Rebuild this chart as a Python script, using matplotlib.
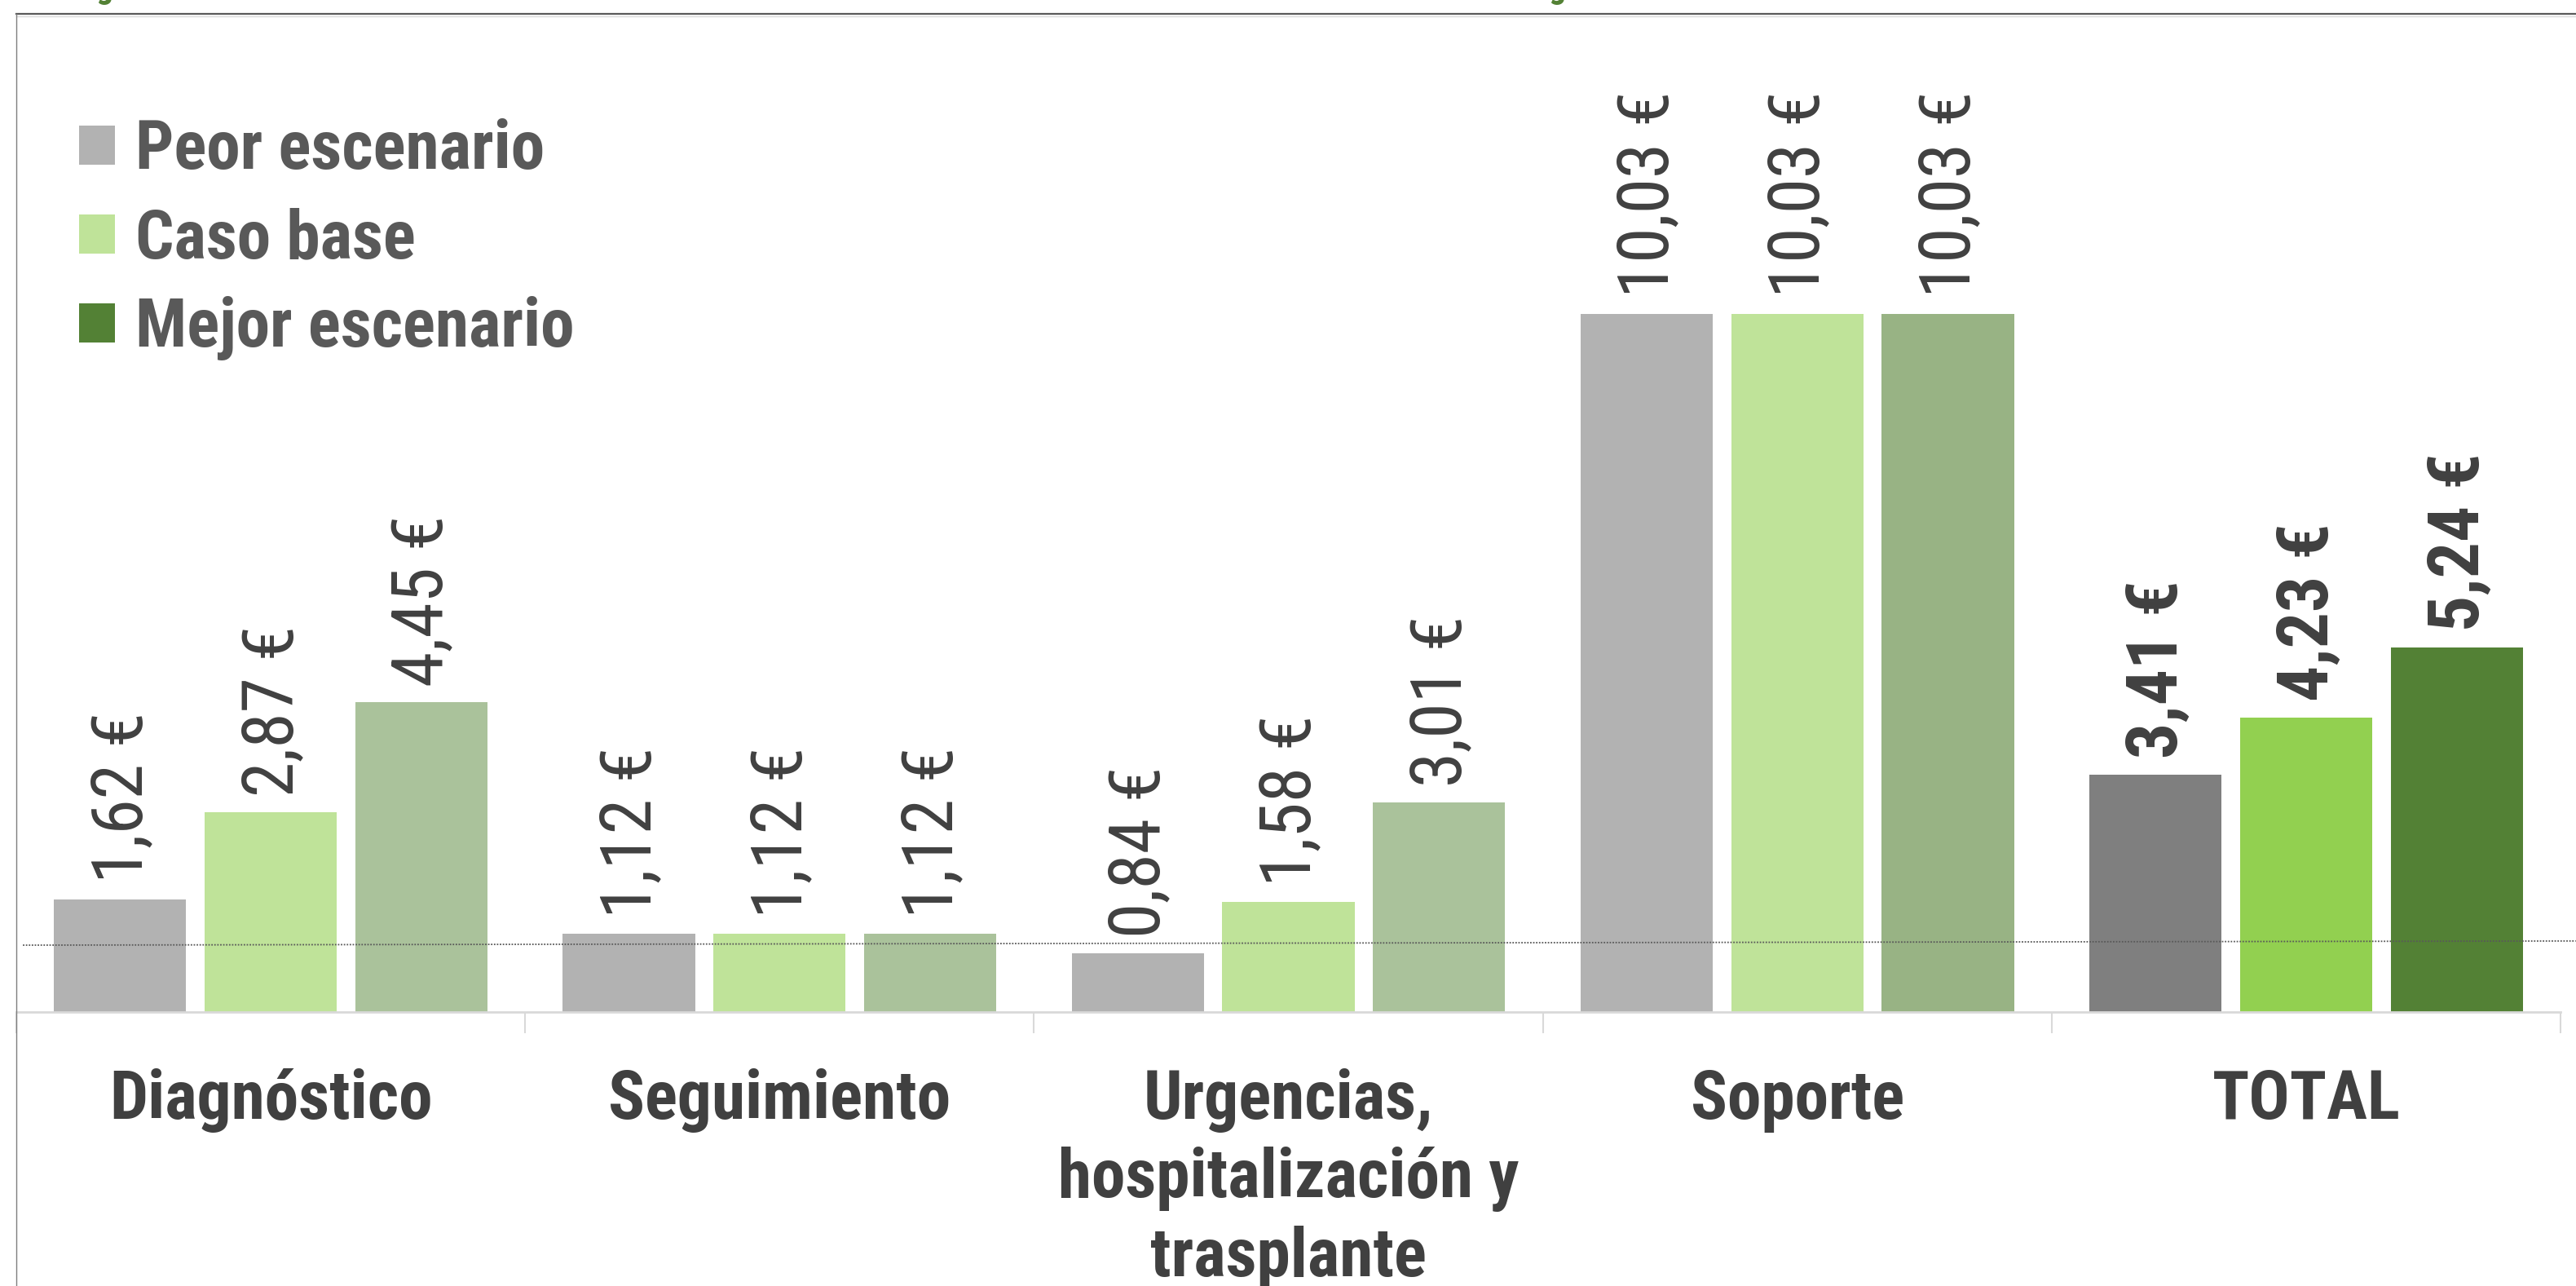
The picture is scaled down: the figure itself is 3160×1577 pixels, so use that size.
import numpy as np
import matplotlib
matplotlib.use('Agg')
import matplotlib.pyplot as plt
from matplotlib import font_manager
from matplotlib.lines import Line2D
from matplotlib.patches import Patch

# data
categories = ['Diagnóstico', 'Seguimiento', 'Urgencias,\nhospitalización y\ntrasplante', 'Soporte', 'TOTAL']
peor = [1.62, 1.12, 0.84, 10.03, 3.41]
base = [2.87, 1.12, 1.58, 10.03, 4.23]
mejor = [4.45, 1.12, 3.01, 10.03, 5.24]
series_names = ['Peor escenario', 'Caso base', 'Mejor escenario']
ref_line = [0.96, 1.02]  # dotted reference line (left, right)

# colours: one per bar (last category is the highlighted TOTAL)
peor_colors = ['#b2b2b2'] * 4 + ['#7f7f7f']
base_colors = ['#bfe399'] * 4 + ['#92d050']
mejor_colors = ['#aac29b', '#aac29b', '#aac29b', '#98b384', '#538135']
legend_colors = ['#b2b2b2', '#bfe399', '#538135']


# pick a narrow sans (the original uses Arial Narrow)
def find_narrow(bold):
    want = 700 if bold else 400
    prefs = ['Liberation Sans Narrow', 'Arial Narrow', 'Roboto Condensed',
             'Open Sans Condensed', 'Noto Sans', 'Open Sans', 'Roboto', 'DejaVu Sans']
    best = None
    for fam in prefs:
        for f in font_manager.fontManager.ttflist:
            if f.name != fam or f.style != 'normal':
                continue
            narrow_ok = ('narrow' in fam.lower() or 'condensed' in fam.lower()
                         or f.stretch in ('condensed', 'semi-condensed')
                         or 'condensed' in f.fname.lower().replace('extracondensed', '')
                         .replace('semicondensed', 'condensed'))
            if not narrow_ok:
                continue
            w = f.weight if isinstance(f.weight, int) else (700 if 'bold' in str(f.weight) else 400)
            if 'semi' in f.fname.lower() or 'extra' in f.fname.lower() or 'ultra' in f.fname.lower():
                continue
            d = abs(w - want)
            if best is None or d < best[0]:
                best = (d, f.fname)
        if best is not None and best[0] == 0:
            return font_manager.FontProperties(fname=best[1])
    if best is not None:
        return font_manager.FontProperties(fname=best[1])
    return font_manager.FontProperties(family='Liberation Sans',
                                       weight='bold' if bold else 'normal')


fp_reg = find_narrow(False)
fp_bold = find_narrow(True)


def fp(size, bold=False):
    p = (fp_bold if bold else fp_reg).copy()
    p.set_size(size)
    return p


W, H = 3160, 1577
fig = plt.figure(figsize=(W / 100, H / 100), dpi=100)
ax = fig.add_axes([20 / W, 336 / H, 3121 / W, 1221 / H])

x = np.arange(len(categories))
bw = 0.26
off = 0.296
b1 = ax.bar(x - off, peor, bw, color=peor_colors)
b2 = ax.bar(x, base, bw, color=base_colors)
b3 = ax.bar(x + off, mejor, bw, color=mejor_colors)

ax.set_xlim(-0.5, len(categories) - 0.5)
ax.set_ylim(0, 14.3)

# value labels
for bars, vals in [(b1, peor), (b2, base), (b3, mejor)]:
    for i, (rect, v) in enumerate(zip(bars, vals)):
        bold = categories[i] == 'TOTAL'
        ax.annotate(f'{v:.2f}'.replace('.', ',') + ' €',
                    (rect.get_x() + rect.get_width() / 2, v),
                    xytext=(2, 14), textcoords='offset points',
                    rotation=90, ha='center', va='bottom',
                    fontproperties=fp(63, bold), color='#404040')

# reference line
ax.plot([0.0026, 1.006], ref_line, transform=ax.get_yaxis_transform(),
        ls=(0, (1, 1)), color='#595959', lw=1.3, clip_on=False)

for s in ['top', 'right', 'left']:
    ax.spines[s].set_visible(False)
ax.spines['bottom'].set_color('#d9d9d9')
ax.spines['bottom'].set_linewidth(2)
ax.set_yticks([])
ax.set_xticks(x)
ax.set_xticklabels(categories, fontproperties=fp(60, True), color='#404040',
                   linespacing=1.27)
ax.tick_params(axis='x', which='major', length=0, pad=50)
ax.set_xticks(np.arange(len(categories) + 1) - 0.5, minor=True)
ax.tick_params(axis='x', which='minor', length=19, width=1.5, color='#d9d9d9')

# legend
handles = [Patch(facecolor=c, edgecolor='none') for c in legend_colors]
leg = ax.legend(handles, series_names, loc='upper left',
                bbox_to_anchor=(64 / W, 1 - 112 / H), bbox_transform=fig.transFigure,
                frameon=False, prop=fp(60, True),
                labelcolor='#595959', handlelength=0.52, handleheight=0.5,
                handletextpad=0.3, labelspacing=0.36, borderaxespad=0)

# frame bits
fig.add_artist(Line2D([20 / W, 1], [1 - 17 / H] * 2, color='#595959', lw=1.6))
fig.add_artist(Line2D([20 / W, 1], [1 - 20 / H] * 2, color='#d9d9d9', lw=1))
fig.add_artist(Line2D([20 / W] * 2, [0, 1 - 17 / H], color='#7f7f7f', lw=1))
# descenders of the cut-off title above the frame
for gx in [118, 1900]:
    fig.text(gx / W, 1 + 3 / H, 'g', fontproperties=fp(30, True),
             color='#538135', va='baseline')

fig.savefig('out.png', dpi=100)
